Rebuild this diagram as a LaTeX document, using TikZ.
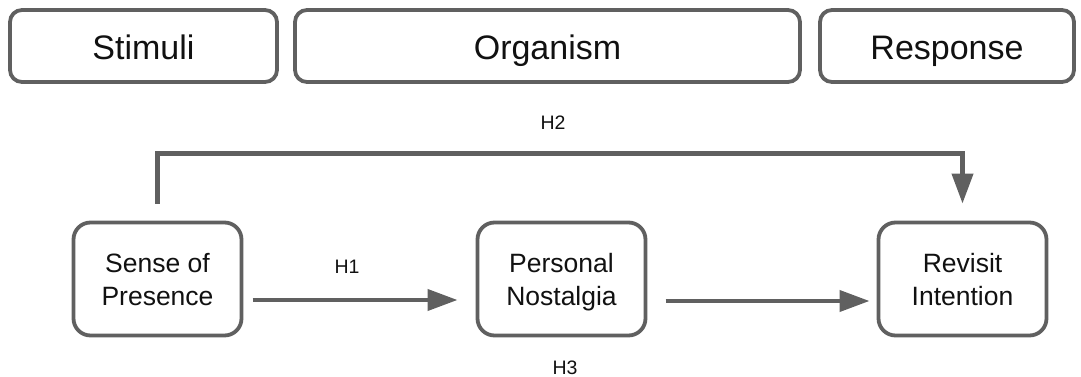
\documentclass[tikz,border=0pt]{standalone}
\usepackage{fontspec}
\setmainfont{Liberation Sans}
\usetikzlibrary{arrows.meta}
\definecolor{lc}{HTML}{606060}
\definecolor{tc}{HTML}{111111}
\begin{document}
\begin{tikzpicture}[x=1pt,y=-1pt,
  head/.style={draw=lc, line width=3.8pt, rounded corners=12pt, fill=white, inner sep=0pt, outer sep=0pt,
    text=tc, font=\fontsize{34}{40}\selectfont, minimum height=72pt, text height=28pt, text depth=0pt},
  var/.style={draw=lc, line width=3.8pt, rounded corners=17pt, fill=white, inner sep=0pt, outer sep=0pt,
    text=tc, align=center, font=\fontsize{26.5}{33}\selectfont, minimum width=168pt, minimum height=113pt, text depth=0pt},
  hyp/.style={text=tc, font=\fontsize{19.5}{22}\selectfont, inner sep=0pt, anchor=base},
  arr/.style={draw=lc, line width=4.2pt, -{Triangle[length=30pt,width=21pt]}}]
\useasboundingbox (0,0) rectangle (1081,377);
% header boxes
\node[head, minimum width=267pt] (st) at (143.5,46) {Stimuli};
\node[head, minimum width=505pt] (or) at (547.5,46) {Organism};
\node[head, minimum width=254pt] (re) at (947,46) {Response};
% variable boxes
\node[var] (sp) at (157.5,279) {Sense of\\Presence};
\node[var] (pn) at (561.5,279) {Personal\\Nostalgia};
\node[var] (ri) at (962.5,279) {Revisit\\Intention};
% connectors
\draw[arr] ([xshift=11pt,yshift=-21pt]sp.east) -- ([xshift=-20pt,yshift=-21pt]pn.west);
\draw[arr] ([xshift=20pt,yshift=-22pt]pn.east) -- ([xshift=-9pt,yshift=-22pt]ri.west);
\draw[arr] ([yshift=19pt]sp.north) -- ++(0,-50) -| ([yshift=19pt]ri.north);
% labels
\node[hyp] (h1) at (347,273) {H1};
\node[hyp] (h2) at (553,130) {H2};
\node[hyp] (h3) at (565,374) {H3};
\end{tikzpicture}
\end{document}
